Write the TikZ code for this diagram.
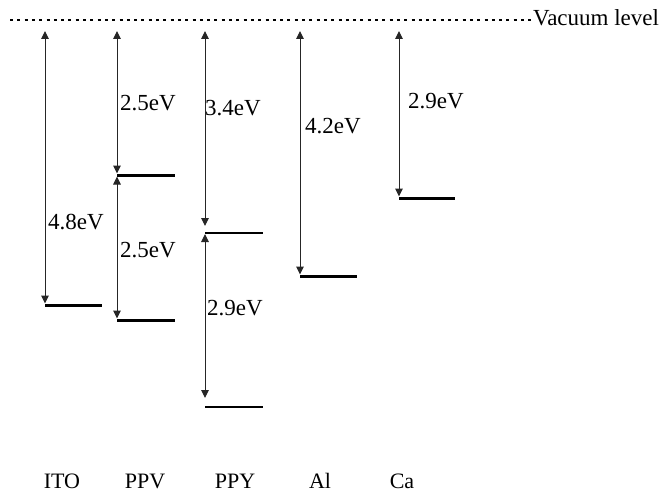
\documentclass[tikz,border=0pt]{standalone}
\usepackage{fontspec}
\setmainfont{Liberation Serif}
\usetikzlibrary{arrows.meta}
\begin{document}
\begin{tikzpicture}[x=1pt,y=-1pt,
  lbl/.style={inner sep=0pt,anchor=west,font=\fontsize{23}{27}\selectfont},
  matname/.style={inner sep=0pt,anchor=center,font=\fontsize{22}{26}\selectfont},
  gap/.style={draw=black!85,line width=1pt,{Triangle[width=7.5pt,length=8pt]}-{Triangle[width=7.5pt,length=8pt]}},
  thick level/.style={line width=3pt},
  thin level/.style={line width=2.2pt},
  vac/.style={line width=2.8pt,dash pattern=on 3pt off 4.3pt}]
\useasboundingbox (0,0) rectangle (666,492);
% vacuum level
\coordinate (vl) at (10,20);
\node[lbl,anchor=base west] (vtxt) at (533,26) {Vacuum level};
\draw[vac] (vl) -- (vtxt.west |- vl);
% top points of arrows
\coordinate (tITO) at (45,31);
\coordinate (tPPV) at (117,31);
\coordinate (tPPY) at (205,31);
\coordinate (tAl) at (300,31);
\coordinate (tCa) at (399,31);
% levels
\coordinate (ITO) at (45,305);
\coordinate (PPVa) at (117,175);
\coordinate (PPVb) at (117,320);
\coordinate (PPYa) at (205,233);
\coordinate (PPYb) at (205,407);
\coordinate (Al) at (300,276);
\coordinate (Ca) at (399,198);
\draw[thick level] (ITO) -- ++(57,0);
\draw[thick level] (PPVa) -- ++(58,0);
\draw[thick level] (PPVb) -- ++(58,0);
\draw[thin level] (PPYa) -- ++(58,0);
\draw[thin level] (PPYb) -- ++(58,0);
\draw[thick level] (Al) -- ++(57,0);
\draw[thick level] (Ca) -- ++(56,0);
% arrows
\draw[gap] (tITO) -- ([yshift=1.5pt]ITO);
\draw[gap] (tPPV) -- ([yshift=1.5pt]PPVa);
\draw[gap] ([yshift=-1.5pt]PPVa) -- ([yshift=1.5pt]PPVb);
\draw[gap] (tPPY) -- ([yshift=7pt]PPYa);
\draw[gap] ([yshift=-1pt]PPYa) -- ([yshift=9pt]PPYb);
\draw[gap] (tAl) -- ([yshift=1.5pt]Al);
\draw[gap] (tCa) -- ([yshift=1.5pt]Ca);
% labels
\node[lbl] (l1) at (48,222) {4.8eV};
\node[lbl] (l2) at (120,103) {2.5eV};
\node[lbl] (l3) at (120,250) {2.5eV};
\node[lbl] (l4) at (205,108) {3.4eV};
\node[lbl] (l5) at (207,308) {2.9eV};
\node[lbl] (l6) at (305,126) {4.2eV};
\node[lbl] (l7) at (408,101) {2.9eV};
% material names
\node[matname] (nITO) at (62,481) {ITO};
\node[matname] (nPPV) at (145,481) {PPV};
\node[matname] (nPPY) at (235,481) {PPY};
\node[matname] (nAl) at (320,481) {Al};
\node[matname] (nCa) at (402,481) {Ca};
\end{tikzpicture}
\end{document}
